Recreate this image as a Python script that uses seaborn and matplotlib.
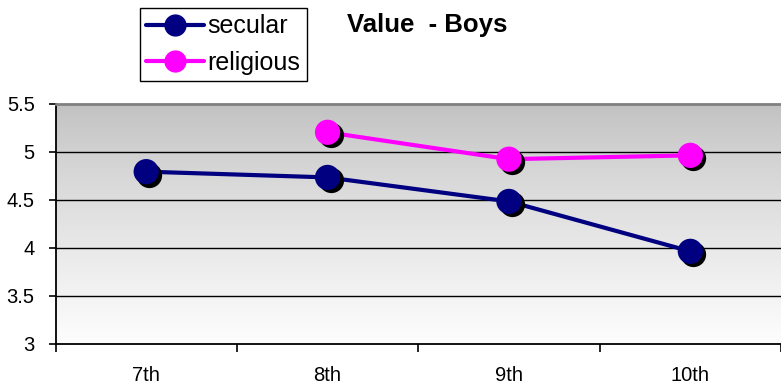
import numpy as np
import pandas as pd
import matplotlib
matplotlib.use("Agg")
import matplotlib.pyplot as plt
import matplotlib.transforms as mtransforms
from matplotlib.lines import Line2D
import seaborn as sns

grades = ["7th", "8th", "9th", "10th"]
secular = [4.79, 4.73, 4.48, 3.96]
religious = [np.nan, 5.20, 4.92, 4.96]
series_names = ["secular", "religious"]
series_colors = {"secular": "#000080", "religious": "#FF00FF"}
y_ticks = [3, 3.5, 4, 4.5, 5, 5.5]

df = pd.DataFrame({
    "grade": grades * 2,
    "value": secular + religious,
    "group": ["secular"] * 4 + ["religious"] * 4,
})
df_valid = df.dropna()

sns.set_theme(style="white")
plt.rcParams["font.family"] = ["Liberation Sans", "DejaVu Sans"]
plt.rcParams["text.color"] = "black"

W, H = 781, 387
fig = plt.figure(figsize=(W / 100, H / 100), dpi=100)
left, right, top, bottom = 55.5, 781, 103.5, 343.5
ax = fig.add_axes([left / W, (H - bottom) / H, (right - left) / W, (bottom - top) / H])

# vertical grey-to-white gradient behind the plot area (grey at the top)
grad = np.linspace(0, 1, 256).reshape(-1, 1)
shade = 192 + (253 - 192) * grad ** 0.8
img = np.dstack([shade, shade, shade]) / 255.0
ax.imshow(img, extent=[0, 1, 0, 1], origin="upper", transform=ax.transAxes,
          aspect="auto", zorder=0, interpolation="bilinear")

for y in y_ticks[1:-1]:
    ax.axhline(y, color="black", lw=1.0, zorder=1)

# lines
sns.lineplot(data=df_valid, x="grade", y="value", hue="group", hue_order=series_names,
             palette=series_colors, linewidth=3, legend=False, sort=False, ax=ax, zorder=2)

# marker shadows, shifted a few pixels down-right
sns.scatterplot(data=df_valid, x="grade", y="value", color="black", s=330,
                linewidth=0, legend=False, ax=ax, zorder=3)
shadow_coll = ax.collections[-1]
shadow_coll.set_offset_transform(
    mtransforms.offset_copy(ax.transData, fig=fig, x=3, y=-3, units="dots"))

sns.scatterplot(data=df_valid, x="grade", y="value", hue="group", hue_order=series_names,
                palette=series_colors, s=330, linewidth=0, legend=False, ax=ax, zorder=4)

ax.set_xlim(-0.5, (right - left) / 183.0 - 0.5)
ax.set_ylim(3, 5.5)
ax.set_yticks(y_ticks)
ax.set_yticklabels([f"{t:g}" for t in y_ticks])
ax.set_xticks(range(len(grades)))
ax.set_xticklabels(grades)
ax.set_xticks(np.arange(-0.5, len(grades), 1.0), minor=True)
ax.set_xlabel("")
ax.set_ylabel("")
ax.tick_params(axis="x", which="major", length=0, pad=16, labelsize=14.5, colors="black")
ax.tick_params(axis="x", which="minor", length=6, width=1.2, color="black", bottom=True)
ax.tick_params(axis="y", length=5, width=1.2, color="black", left=True, pad=10,
               labelsize=14.5, labelcolor="black")

ax.spines["right"].set_visible(False)
ax.spines["top"].set_color("#808080")
ax.spines["top"].set_linewidth(2)
for s in ["left", "bottom"]:
    ax.spines[s].set_color("black")
    ax.spines[s].set_linewidth(1.3)

handles = [Line2D([0], [0], color=series_colors[n], lw=3, marker="o", markersize=15)
           for n in series_names]
leg = fig.legend(handles, series_names, loc="upper left",
                 bbox_to_anchor=(140 / W, 1 - 8 / H), fontsize=18,
                 frameon=True, fancybox=False, shadow=False, edgecolor="black",
                 handlelength=2.3, handletextpad=0.15, borderpad=0.25,
                 labelspacing=0.5, borderaxespad=0, framealpha=1)
leg.get_frame().set_linewidth(1.0)
for t in leg.get_texts():
    t.set_color("black")

fig.text(427 / W, 1 - 25 / H, "Value  - Boys", ha="center", va="center",
         fontsize=18.5, fontweight="bold", color="black")

fig.savefig("out.png", dpi=100)
